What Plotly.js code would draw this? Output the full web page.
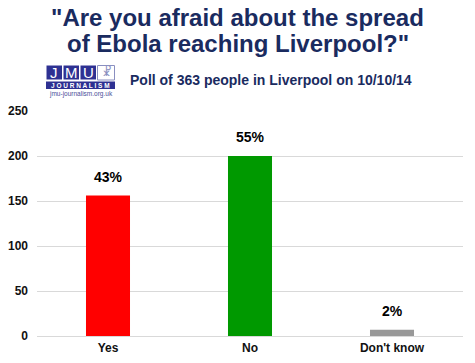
<!DOCTYPE html>
<html>
<head>
<meta charset="utf-8">
<script src="https://cdn.plot.ly/plotly-3.0.1.min.js"></script>
<style>html,body{margin:0;padding:0;background:#fff;}#chart{width:475px;height:363px;}</style>
</head>
<body>
<div id="chart"></div>
<script>
const categories = ["Yes", "No", "Don't know"];
const counts = [156, 200, 7];
const percentLabels = ["43%", "55%", "2%"];
const barColors = ["#ff0000", "#009900", "#999999"];
const tickVals = [0, 50, 100, 150, 200, 250];

const W = 475, H = 363;
const L = 37, R = 12, T = 111, B = 27;
const pw = W - L - R, ph = H - T - B;
const px = x => (x - L) / pw;
const py = y => (H - B - y) / ph;

const navy = "#1a2b5f";
const logoBlue = "#2e3192";
const font = "Arial, 'Liberation Sans', sans-serif";

const trace = {
  type: "bar",
  x: categories,
  y: counts,
  marker: {color: barColors},
  hoverinfo: "none"
};

const annotations = [];
categories.forEach((c, i) => {
  annotations.push({
    x: c, y: counts[i], xref: "x", yref: "y",
    text: percentLabels[i], showarrow: false,
    yanchor: "bottom", yshift: 9,
    font: {family: font, size: 14, color: "#000", weight: "bold"}
  });
});
annotations.push({
  xref: "paper", yref: "paper", x: px(237.5), y: py(17),
  text: "\"Are you afraid about the spread", showarrow: false,
  xanchor: "center", yanchor: "middle",
  font: {family: font, size: 24, color: navy, weight: "bold"}
});
annotations.push({
  xref: "paper", yref: "paper", x: px(237.5), y: py(43.5),
  text: "of Ebola reaching Liverpool?\"", showarrow: false,
  xanchor: "center", yanchor: "middle",
  font: {family: font, size: 24, color: navy, weight: "bold"}
});
annotations.push({
  xref: "paper", yref: "paper", x: px(271), y: py(80),
  text: "Poll of 363 people in Liverpool on 10/10/14", showarrow: false,
  xanchor: "center", yanchor: "middle",
  font: {family: font, size: 14, color: navy, weight: "bold"}
});

const shapes = [];
const cells = ["J", "M", "U"];
const cellW = 16.5;
cells.forEach((ch, i) => {
  const x0 = 46 + i * (cellW + 0.5);
  shapes.push({type: "rect", xref: "paper", yref: "paper",
    x0: px(x0), x1: px(x0 + cellW), y0: py(80), y1: py(65),
    fillcolor: logoBlue, line: {color: "#ffffff", width: 1}});
  annotations.push({xref: "paper", yref: "paper", x: px(x0 + cellW / 2), y: py(72.5),
    text: ch, showarrow: false, xanchor: "center", yanchor: "middle",
    font: {family: font, size: 15, color: "#ffffff"}});
});
shapes.push({type: "rect", xref: "paper", yref: "paper",
  x0: px(97.5), x1: px(114.5), y0: py(80), y1: py(65.5),
  fillcolor: "#ffffff", line: {color: "#8a8fc0", width: 1}});
annotations.push({xref: "paper", yref: "paper", x: px(106), y: py(72.5),
  text: "\u2627", showarrow: false, xanchor: "center", yanchor: "middle",
  font: {family: "DejaVu Sans", size: 12, color: "#8a8fc0"}});
shapes.push({type: "rect", xref: "paper", yref: "paper",
  x0: px(46), x1: px(115), y0: py(89), y1: py(81.5),
  fillcolor: logoBlue, line: {width: 0}});
annotations.push({xref: "paper", yref: "paper", x: px(80.5), y: py(85.3),
  text: "J O U R N A L I S M", showarrow: false, xanchor: "center", yanchor: "middle",
  font: {family: font, size: 6.5, color: "#ffffff", weight: "bold"}});
annotations.push({xref: "paper", yref: "paper", x: px(80.5), y: py(94),
  text: "jmu-journalism.org.uk", showarrow: false, xanchor: "center", yanchor: "middle",
  font: {family: font, size: 6.5, color: "#4a4f99"}});

const layout = {
  width: W, height: H,
  margin: {l: L, r: R, t: T, b: B, pad: 0},
  paper_bgcolor: "#ffffff", plot_bgcolor: "#ffffff",
  showlegend: false,
  bargap: 0.69,
  xaxis: {
    type: "category",
    showgrid: false, zeroline: false, showline: false,
    ticks: "", ticklen: 0,
    tickfont: {family: font, size: 12, color: "#111", weight: "bold"},
    ticklabelstandoff: 3
  },
  yaxis: {
    range: [0, 250],
    tickvals: tickVals,
    showgrid: true, gridcolor: "#d9d9d9", gridwidth: 1,
    zeroline: true, zerolinecolor: "#d9d9d9", zerolinewidth: 1,
    showline: false, ticks: "",
    tickfont: {family: font, size: 12, color: "#111", weight: "bold"},
    ticklabelstandoff: 8
  },
  annotations: annotations,
  shapes: shapes
};

Plotly.newPlot("chart", [trace], layout, {displayModeBar: false, staticPlot: true});
</script>
</body>
</html>
